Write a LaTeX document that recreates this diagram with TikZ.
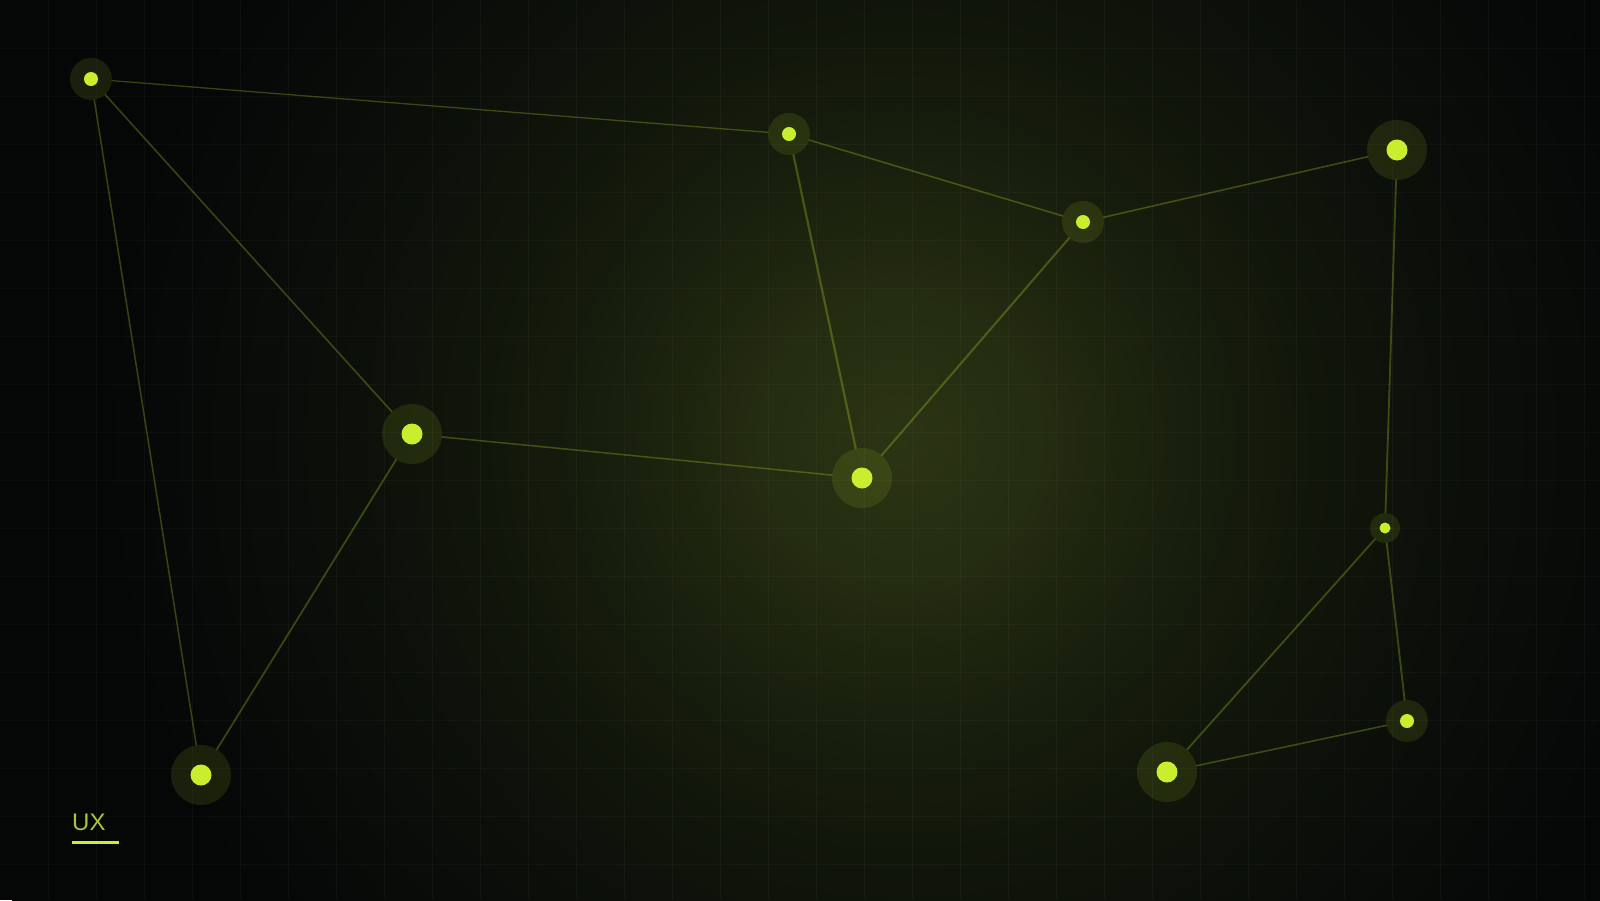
\documentclass[tikz,border=0pt]{standalone}
\usepackage{fontspec}
\setmainfont{Liberation Sans}
\definecolor{lime}{HTML}{C8EE2E}
\definecolor{uxtext}{HTML}{A9C442}
\definecolor{bgA}{HTML}{2B3413}
\definecolor{bgB}{HTML}{252D11}
\definecolor{bgC}{HTML}{1A210D}
\definecolor{bgE}{HTML}{11160B}
\definecolor{bgF}{HTML}{0A0D09}
\definecolor{bgD}{HTML}{050707}
\pgfdeclareradialshading{bgglow}{\pgfpoint{0bp}{0bp}}{color(0bp)=(bgA); color(3.2bp)=(bgB); color(6.4bp)=(bgC); color(10.4bp)=(bgE); color(15.2bp)=(bgF); color(20bp)=(bgD); color(50bp)=(bgD)}
\tikzset{
  halo/.style={circle, inner sep=0pt, draw=none, fill=lime, fill opacity=0.11},
  big/.style={halo, minimum size=60pt},
  mid/.style={halo, minimum size=42pt},
  tiny/.style={halo, minimum size=30pt},
  dot/.style={circle, inner sep=0pt, draw=none, fill=lime},
  edge/.style={draw=lime, draw opacity=0.26, line cap=round},
  gridline/.style={draw=white, draw opacity=0.03, line width=1pt}
}
\begin{document}
\begin{tikzpicture}[x=1pt,y=-1pt]
\useasboundingbox (0,0) rectangle (1600,900);
\fill[bgD] (0,0) rectangle (1600,900);
\begin{scope}
  \clip (0,0) rectangle (1600,900);
  \shade[shading=bgglow] (900,440) circle [radius=1000pt];
  \foreach \i in {48,96,...,1584} { \draw[gridline] (\i,0) -- (\i,900); }
  \foreach \j in {48,96,...,864} { \draw[gridline] (0,\j) -- (1600,\j); }
\end{scope}

% halos
\node[mid] (n1) at (91,79) {};
\node[mid] (n2) at (789,134) {};
\node[mid] (n3) at (1083,222) {};
\node[big] (n4) at (1397,150) {};
\node[big] (n5) at (412,434) {};
\node[big] (n6) at (862,478) {};
\node[big] (n7) at (201,775) {};
\node[tiny] (n8) at (1385,528) {};
\node[mid] (n9) at (1407,721) {};
\node[big] (n10) at (1167,772) {};

% dots
\node[dot, minimum size=14pt] (d1) at (n1) {};
\node[dot, minimum size=14pt] (d2) at (n2) {};
\node[dot, minimum size=14pt] (d3) at (n3) {};
\node[dot, minimum size=21pt] (d4) at (n4) {};
\node[dot, minimum size=21pt] (d5) at (n5) {};
\node[dot, minimum size=21pt] (d6) at (n6) {};
\node[dot, minimum size=21pt] (d7) at (n7) {};
\node[dot, minimum size=11pt] (d8) at (n8) {};
\node[dot, minimum size=14pt] (d9) at (n9) {};
\node[dot, minimum size=21pt] (d10) at (n10) {};

% connectors
\draw[edge, line width=1.3pt] (n1) -- (n2);
\draw[edge, line width=1.6pt] (n1) -- (n5);
\draw[edge, line width=1.5pt] (n1) -- (n7);
\draw[edge, line width=1.8pt] (n5) -- (n7);
\draw[edge, line width=1.5pt] (n5) -- (n6);
\draw[edge, line width=2.2pt] (n2) -- (n6);
\draw[edge, line width=1.6pt] (n2) -- (n3);
\draw[edge, line width=2.0pt] (n3) -- (n6);
\draw[edge, line width=1.6pt] (n3) -- (n4);
\draw[edge, line width=1.8pt] (n4) -- (n8);
\draw[edge, line width=1.8pt] (n8) -- (n9);
\draw[edge, line width=1.8pt] (n8) -- (n10);
\draw[edge, line width=1.6pt] (n10) -- (n9);

% label
\node[anchor=base west, inner sep=0pt, text=uxtext, font=\fontsize{24pt}{28pt}\selectfont] (ux) at (72,830) {UX};
\coordinate (ulA) at (72,842);
\coordinate (ulB) at (119,842);
\draw[lime, line width=3pt] (ulA) -- (ulB);
\end{tikzpicture}
\end{document}
